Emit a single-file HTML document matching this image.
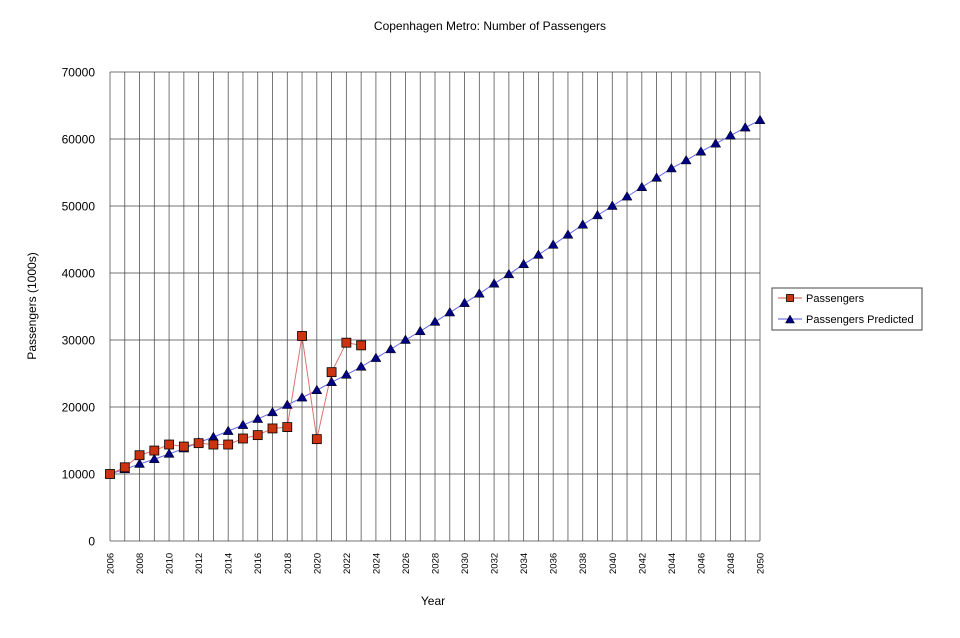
<!DOCTYPE html>
<html><head><meta charset="utf-8"><style>
body{margin:0;background:#fff}
svg text{font-family:"Liberation Sans",sans-serif;fill:#000}
</style></head><body>
<svg id="s" width="960" height="633" xmlns="http://www.w3.org/2000/svg">
<rect width="960" height="633" fill="#fff"/>
<text x="490" y="30" font-size="12" text-anchor="middle">Copenhagen Metro: Number of Passengers</text>
<text x="433" y="605" font-size="12" text-anchor="middle">Year</text>
<text transform="translate(36,306) rotate(-90)" font-size="12" text-anchor="middle">Passengers (1000s)</text>
<g id="g"></g>
<rect x="772" y="288" width="150" height="42" fill="#fff" stroke="#444" stroke-width="1"/>
<line x1="778" y1="298" x2="802" y2="298" stroke="#d05050" stroke-width="1"/>
<rect x="786.5" y="294.5" width="7" height="7" fill="#cc3311" stroke="#000" stroke-width="0.8"/>
<text x="806" y="302" font-size="11">Passengers</text>
<line x1="778" y1="319" x2="802" y2="319" stroke="#5555dd" stroke-width="1"/>
<polygon points="790,315 794.5,323 785.5,323" fill="#000080" stroke="#000" stroke-width="0.5"/>
<text x="806" y="323" font-size="11">Passengers Predicted</text>
</svg>
<script>
var g=document.getElementById('g'),ns='http://www.w3.org/2000/svg',h='';
var X=function(y){return 110+(y-2006)*650/44},Y=function(v){return 541-v*469/70000};
for(var y=2006;y<=2050;y++){var x=X(y);h+='<line x1="'+x+'" y1="72" x2="'+x+'" y2="541" stroke="#555" stroke-width="0.8"/>';
if(y%2==0)h+='<text transform="translate('+(x+3.5)+',574) rotate(-90)" font-size="9.5">'+y+'</text>';}
for(var v=0;v<=70000;v+=10000){var yy=Y(v);h+='<line x1="110" y1="'+yy+'" x2="760" y2="'+yy+'" stroke="#444" stroke-width="0.8"/>';
h+='<text x="95" y="'+(yy+4.5)+'" font-size="12" text-anchor="end">'+v+'</text>';}
var pr=[10000,10700,11500,12200,13000,13800,14700,15500,16400,17300,18200,19200,20300,21400,22500,23700,24800,26000,27300,28600,30000,31300,32700,34100,35500,36900,38400,39800,41300,42700,44200,45700,47200,48600,50000,51400,52800,54200,55600,56800,58100,59300,60500,61700,62800];
var pa=[10000,11000,12800,13500,14400,14100,14600,14400,14400,15300,15800,16800,17000,30600,15200,25200,29600,29200];
var p='';pr.forEach(function(v,i){p+=X(2006+i)+','+Y(v)+' '});
h+='<polyline points="'+p+'" fill="none" stroke="#6666ee" stroke-width="1"/>';
p='';pa.forEach(function(v,i){p+=X(2006+i)+','+Y(v)+' '});
h+='<polyline points="'+p+'" fill="none" stroke="#e07070" stroke-width="1"/>';
pr.forEach(function(v,i){var x=X(2006+i),y=Y(v);h+='<polygon points="'+x+','+(y-5)+' '+(x+5)+','+(y+3.5)+' '+(x-5)+','+(y+3.5)+'" fill="#000080" stroke="#000" stroke-width="0.5"/>'});
pa.forEach(function(v,i){var x=X(2006+i),y=Y(v);h+='<rect x="'+(x-4.5)+'" y="'+(y-4.5)+'" width="9" height="9" fill="#cc3311" stroke="#000" stroke-width="0.8"/>'});
g.innerHTML=h;
</script>
</body></html>
